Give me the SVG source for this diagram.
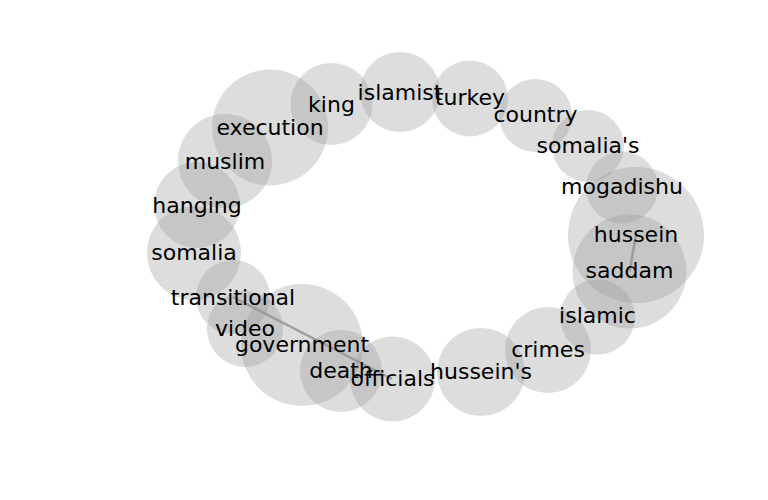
<svg xmlns="http://www.w3.org/2000/svg" width="768" height="500" viewBox="0 0 768 500">
<style>
.n circle{fill:#999999;fill-opacity:0.33;stroke:none}
.lbl text{font-family:"DejaVu Sans",sans-serif;font-size:22px;fill:#000;text-anchor:middle}
.e line{stroke:#666;stroke-opacity:0.6;stroke-width:2.5}
</style>
<rect width="768" height="500" fill="#fff"/>
<g id="edges" class="e">
<line x1="233" y1="297" x2="392" y2="379"/>
<line x1="636" y1="235" x2="629.5" y2="271.5"/>
</g>
<g id="nodes">
<g id="n-islamist" class="n"><circle cx="400" cy="92" r="40"/></g>
<g id="n-king" class="n"><circle cx="331.5" cy="104" r="41"/></g>
<g id="n-execution" class="n"><circle cx="270" cy="127.5" r="58"/></g>
<g id="n-muslim" class="n"><circle cx="225" cy="161" r="47"/></g>
<g id="n-hanging" class="n"><circle cx="197" cy="205" r="43"/></g>
<g id="n-somalia" class="n"><circle cx="194" cy="253" r="47"/></g>
<g id="n-transitional" class="n"><circle cx="233" cy="297" r="37"/></g>
<g id="n-video" class="n"><circle cx="245" cy="329" r="38"/></g>
<g id="n-government" class="n"><circle cx="302" cy="345" r="61"/></g>
<g id="n-death" class="n"><circle cx="341" cy="371" r="41"/></g>
<g id="n-officials" class="n"><circle cx="392.5" cy="379" r="42.5"/></g>
<g id="n-husseins" class="n"><circle cx="481" cy="372" r="44"/></g>
<g id="n-crimes" class="n"><circle cx="548" cy="350" r="43"/></g>
<g id="n-islamic" class="n"><circle cx="597.5" cy="317" r="37.5"/></g>
<g id="n-saddam" class="n"><circle cx="629.5" cy="271.5" r="57"/></g>
<g id="n-hussein" class="n"><circle cx="636" cy="235" r="68"/></g>
<g id="n-mogadishu" class="n"><circle cx="622" cy="187.5" r="36"/></g>
<g id="n-somalias" class="n"><circle cx="588" cy="146" r="36"/></g>
<g id="n-country" class="n"><circle cx="535.5" cy="115.5" r="36.5"/></g>
<g id="n-turkey" class="n"><circle cx="470" cy="98.5" r="38"/></g>
</g>
<g id="labels" class="lbl">
<text x="400" y="100">islamist</text>
<text x="331.5" y="112">king</text>
<text x="270" y="135">execution</text>
<text x="225" y="169">muslim</text>
<text x="197" y="213">hanging</text>
<text x="194" y="260">somalia</text>
<text x="233" y="305">transitional</text>
<text x="245" y="336">video</text>
<text x="302" y="352">government</text>
<text x="341" y="378">death</text>
<text x="392.5" y="386">officials</text>
<text x="481" y="379">hussein's</text>
<text x="548" y="357">crimes</text>
<text x="597.5" y="323">islamic</text>
<text x="629.5" y="278">saddam</text>
<text x="636" y="242">hussein</text>
<text x="622" y="194">mogadishu</text>
<text x="588" y="153">somalia's</text>
<text x="535.5" y="122">country</text>
<text x="470" y="105">turkey</text>
</g>
</svg>
